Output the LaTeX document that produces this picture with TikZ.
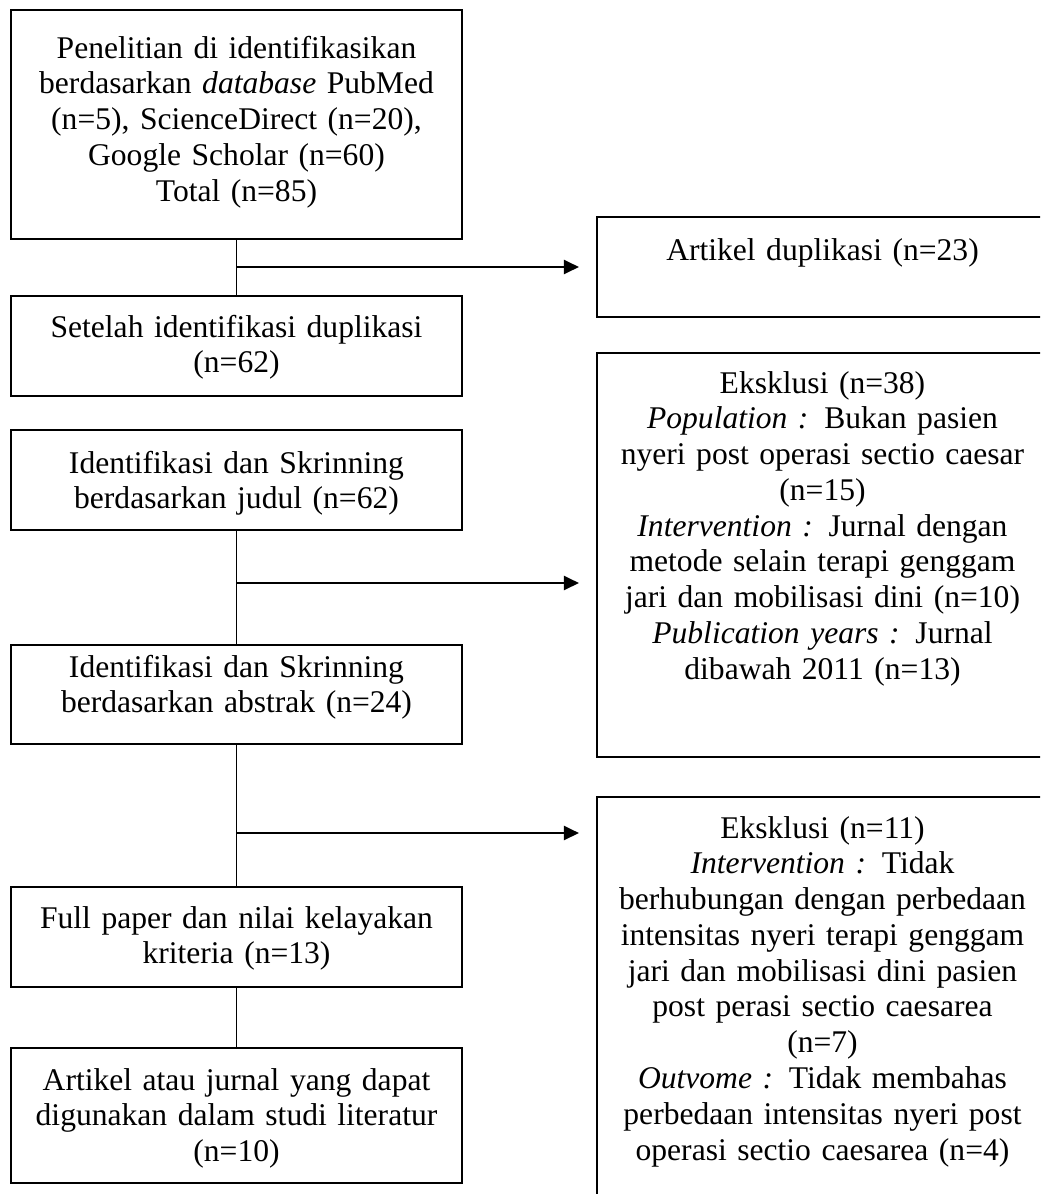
\documentclass[tikz,border=0pt]{standalone}
\usepackage{fontspec}
\setmainfont{Liberation Serif}
\usetikzlibrary{arrows.meta}

\begin{document}
\begin{tikzpicture}[
        x=0.38pt, y=-0.38pt,
        flowbox/.style={rectangle, draw, line width=0.75pt, inner sep=0pt, text width=171.4pt, align=center, font=\fontsize{12}{13.6}\selectfont},
        link/.style={line width=0.75pt},
        arrowlink/.style={line width=0.75pt, -{Triangle[length=5.7pt, width=5.4pt]}, shorten >=6.5pt}
    ]
        \useasboundingbox (0,0) rectangle (1040,1194);
        \clip (0,0) rectangle (1040,1194);

        % Main column of selection steps
        \node[flowbox, text height=18.24pt, text depth=68.78pt] (found) at (236.5,124.5) {Penelitian di identifikasikan\\ berdasarkan \textit{database} PubMed\\ (n=5), ScienceDirect (n=20),\\ Google Scholar (n=60)\\ Total (n=85)};
        \node[flowbox, text height=15.58pt, text depth=22.42pt] (afterdup) at (236.5,346) {Setelah identifikasi duplikasi\\ (n=62)};
        \node[flowbox, text height=16.34pt, text depth=21.66pt] (bytitle) at (236.5,480) {Identifikasi dan Skrinning\\ berdasarkan judul (n=62)};
        \node[flowbox, text height=12.16pt, text depth=25.46pt] (byabstract) at (236.5,694.5) {Identifikasi dan Skrinning\\ berdasarkan abstrak (n=24)};
        \node[flowbox, text height=15.58pt, text depth=22.42pt] (fullpaper) at (236.5,937) {Full paper dan nilai kelayakan\\ kriteria (n=13)};
        \node[flowbox, text height=15.96pt, text depth=35.34pt] (included) at (236.5,1115.5) {Artikel atau jurnal yang dapat\\ digunakan dalam studi literatur\\ (n=10)};

        % Excluded records on the right
        \node[flowbox, text height=16.34pt, text depth=21.66pt] (dup) at (822.5,267) {Artikel duplikasi (n=23)};
        \node[flowbox, text height=15.2pt, text depth=138.32pt] (excltitle) at (822.5,555) {Eksklusi (n=38)\\ \textit{Population :} Bukan pasien\\ nyeri post operasi sectio caesar\\ (n=15)\\ \textit{Intervention :} Jurnal dengan\\ metode selain terapi genggam\\ jari dan mobilisasi dini (n=10)\\ \textit{Publication years :} Jurnal\\ dibawah 2011 (n=13)};
        \node[flowbox, text height=15.58pt, text depth=148.96pt] (exclabstract) at (822.5,1013.5) {Eksklusi (n=11)\\ \textit{Intervention :} Tidak\\ berhubungan dengan perbedaan\\ intensitas nyeri terapi genggam\\ jari dan mobilisasi dini pasien\\ post perasi sectio caesarea\\ (n=7)\\ \textit{Outvome :} Tidak membahas\\ perbedaan intensitas nyeri post\\ operasi sectio caesarea (n=4)};

        % Branch points
        \coordinate (split1) at (found.south |- dup.west);
        \coordinate (split2) at (236.5,583);
        \coordinate (split3) at (236.5,833);

        % Vertical flow
        \draw[link] (found) -- (afterdup);
        \draw[link] (bytitle) -- (byabstract);
        \draw[link] (byabstract) -- (fullpaper);
        \draw[link] (fullpaper) -- (included);

        % Arrows to exclusions
        \draw[arrowlink] (split1) -- (dup.west);
        \draw[arrowlink] (split2) -- (split2 -| excltitle.west);
        \draw[arrowlink] (split3) -- (split3 -| exclabstract.west);

    \end{tikzpicture}
\end{document}
